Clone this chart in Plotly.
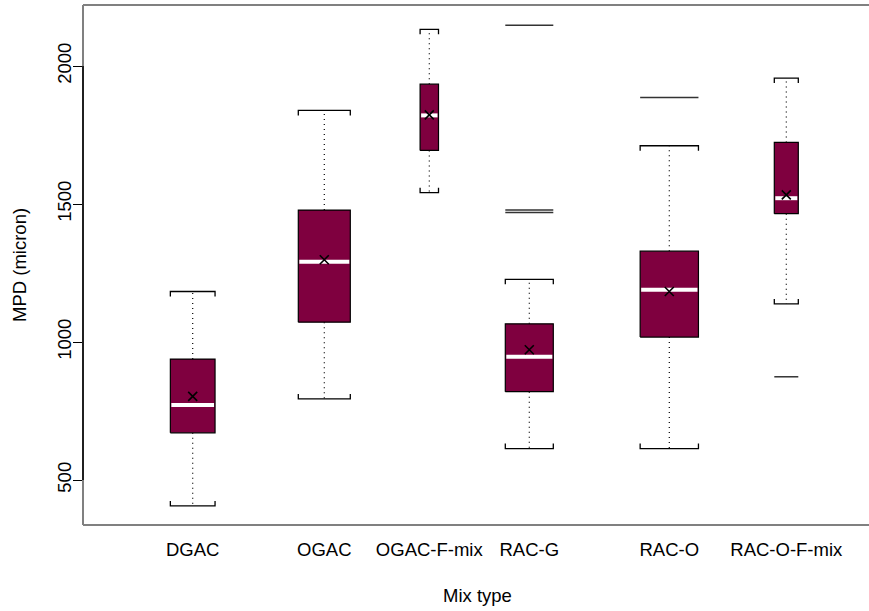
import plotly.graph_objects as go

# ---- data ----
categories = ["DGAC", "OGAC", "OGAC-F-mix", "RAC-G", "RAC-O", "RAC-O-F-mix"]
lower_whisker = [406, 794, 1541, 614, 614, 1138]
q1 = [671, 1072, 1694, 820, 1018, 1465]
median = [772, 1291, 1821, 947, 1189, 1521]
q3 = [938, 1478, 1934, 1066, 1329, 1723]
upper_whisker = [1183, 1839, 2133, 1227, 1711, 1956]
means = [803, 1298, 1823, 972, 1183, 1533]
outliers = [[], [], [], [2148, 1478, 1469], [1886], [874]]

y_ticks = [500, 1000, 1500, 2000]

# ---- layout helpers (positions / widths / styles) ----
x_pos = [1.097, 2.413, 3.463, 4.463, 5.863, 7.033]
box_w = [0.447, 0.52, 0.184, 0.48, 0.583, 0.24]
cap_leg = 18
FILL = "#7f003f"
FONT = "Liberation Sans, Arial, Helvetica, sans-serif"

fig = go.Figure()

wx, wy = [], []
bx, by = [], []
mx, my = [], []
cx, cy = [], []
ox, oy = [], []
for i in range(len(categories)):
    p, h = x_pos[i], box_w[i] / 2
    # whiskers
    wx += [p, p, None, p, p, None]
    wy += [q3[i], upper_whisker[i], None, q1[i], lower_whisker[i], None]
    # box
    bx += [p - h, p + h, p + h, p - h, p - h, None]
    by += [q1[i], q1[i], q3[i], q3[i], q1[i], None]
    # median
    mx += [p - h + 0.01, p + h - 0.01, None]
    my += [median[i], median[i], None]
    # caps with little legs
    cx += [p - h, p - h, p + h, p + h, None]
    cy += [upper_whisker[i] - cap_leg, upper_whisker[i], upper_whisker[i], upper_whisker[i] - cap_leg, None]
    cx += [p - h, p - h, p + h, p + h, None]
    cy += [lower_whisker[i] + cap_leg, lower_whisker[i], lower_whisker[i], lower_whisker[i] + cap_leg, None]
    for o in outliers[i]:
        ox += [p - h, p + h, None]
        oy += [o, o, None]

fig.add_trace(go.Scatter(x=wx, y=wy, mode="lines", line=dict(color="black", width=1.2, dash="1px,4px"),
                         hoverinfo="skip", showlegend=False))
fig.add_trace(go.Scatter(x=bx, y=by, mode="lines", fill="toself", fillcolor=FILL,
                         line=dict(color="black", width=1.2), hoverinfo="skip", showlegend=False))
fig.add_trace(go.Scatter(x=mx, y=my, mode="lines", line=dict(color="white", width=4),
                         hoverinfo="skip", showlegend=False))
fig.add_trace(go.Scatter(x=cx, y=cy, mode="lines", line=dict(color="black", width=1.3),
                         hoverinfo="skip", showlegend=False))
fig.add_trace(go.Scatter(x=ox, y=oy, mode="lines", line=dict(color="#333333", width=1.5),
                         hoverinfo="skip", showlegend=False))
fig.add_trace(go.Scatter(x=x_pos, y=means, mode="markers",
                         marker=dict(symbol="x-thin", size=9, line=dict(color="black", width=1.6)),
                         showlegend=False))

# frame (gray box, no right side visible) and black axis line between 500 and 2000
frame = dict(color="#808080", width=2)
fig.add_shape(type="line", xref="paper", yref="paper", x0=0, x1=1, y0=1, y1=1, line=frame)
fig.add_shape(type="line", xref="paper", yref="paper", x0=0, x1=1, y0=0, y1=0, line=frame)
fig.add_shape(type="line", xref="paper", yref="paper", x0=0, x1=0, y0=0, y1=1, line=frame)
fig.add_shape(type="line", xref="paper", yref="y", x0=0, x1=0, y0=y_ticks[0], y1=y_ticks[-1],
              line=dict(color="black", width=1.5))

fig.update_layout(
    width=869, height=611,
    margin=dict(l=83, r=0, t=5, b=86),
    plot_bgcolor="white", paper_bgcolor="white",
    font=dict(family=FONT, size=18.5, color="black"),
    xaxis=dict(range=[0, 7.86], tickvals=x_pos, ticktext=categories, showgrid=False,
               zeroline=False, showline=False, ticks="", ticklabelstandoff=11,
               tickfont=dict(size=18.5)),
    yaxis=dict(range=[337, 2221], tickvals=y_ticks, showgrid=False, zeroline=False,
               showline=False, ticks="outside", ticklen=9, tickcolor="black", tickwidth=1,
               tickangle=-90, ticklabelstandoff=-5, tickfont=dict(size=18.5)),
    annotations=[
        dict(text="Mix type", xref="paper", yref="paper", x=(477 - 83) / 786, y=(525 - 595) / 520,
             showarrow=False, xanchor="center", yanchor="middle", font=dict(size=18.5)),
        dict(text="MPD (micron)", xref="paper", yref="paper", x=(19 - 83) / 786, y=0.5,
             textangle=-90, showarrow=False, xanchor="center", yanchor="middle", font=dict(size=18.5)),
    ],
)

fig.write_html("out.html", config={"displayModeBar": False},
               post_script="document.body.style.margin='0';")
